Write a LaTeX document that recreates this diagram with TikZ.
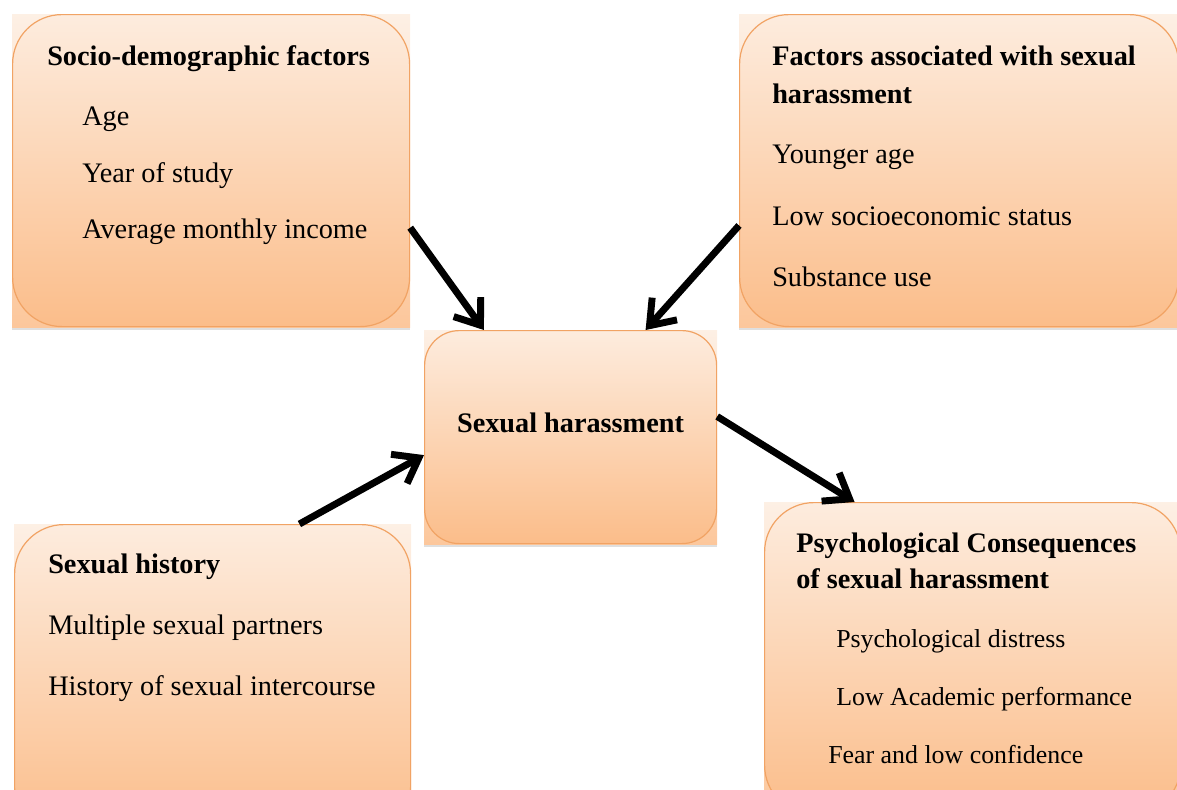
\documentclass[tikz,border=0pt]{standalone}
\usepackage{fontspec}
\setmainfont{Liberation Serif}
\usetikzlibrary{arrows.meta,backgrounds,shadows}
\definecolor{peachtop}{RGB}{253,236,222}
\definecolor{peachbot}{RGB}{251,189,138}
\definecolor{peachline}{RGB}{241,163,100}

\begin{document}
\begin{tikzpicture}[x=0.75pt,y=-0.75pt,
  font=\fontsize{21.2pt}{25pt}\selectfont,
  box/.style={draw=peachline,line width=0.9pt,top color=peachtop,
              bottom color=peachbot,rounded corners=37pt,inner sep=0pt,
              anchor=north west,minimum height=234pt},
  back/.style={top color=peachtop!80!white,bottom color=peachbot!85!white,
               drop shadow={shadow xshift=0pt,shadow yshift=-2pt,opacity=0.25}},
  txt/.style={anchor=base west,inner sep=0pt},
  hd/.style={txt,font=\fontsize{21.2pt}{25pt}\selectfont\bfseries},
  sm/.style={txt,font=\fontsize{19.4pt}{23pt}\selectfont},
  arr/.style={-{Straight Barb[length=17pt,width=25pt]},line width=5.2pt}]

\useasboundingbox (0,0) rectangle (1177,789);

% boxes
\node[box,minimum width=297.75pt] (soc) at (12,14) {};
\node[box,minimum width=329.25pt] (fac) at (739,14) {};
\node[box,minimum width=219pt,minimum height=159.75pt,rounded corners=26pt]
  (sh) at (424,330) {};
\node[box,minimum width=297pt] (hist) at (14,524) {};
\node[box,minimum width=312pt] (psy) at (764,502) {};

\begin{scope}[on background layer]
\path[back] (soc.south west) rectangle (soc.north east);
\path[back] (fac.south west) rectangle (fac.north east);
\path[back] (sh.south west) rectangle (sh.north east);
\path[back] (hist.south west) rectangle (hist.north east);
\path[back] (psy.south west) rectangle (psy.north east);
\end{scope}

% socio-demographic factors
\node[hd] (soct) at (47,65) {Socio-demographic factors};
\node[txt] (soca) at (82,125) {Age};
\node[txt] (socb) at (82,182) {Year of study};
\node[txt] (socc) at (82,238) {Average monthly income};

% associated factors
\node[hd] (fact) at (772,65) {Factors associated with sexual};
\node[hd] (facu) at (772,103) {harassment};
\node[txt] (faca) at (772,163) {Younger age};
\node[txt] (facb) at (772,225) {Low socioeconomic status};
\node[txt] (facc) at (772,286) {Substance use};

% centre
\node[hd,anchor=base] (sht) at (570.5,432) {Sexual harassment};

% sexual history
\node[hd] (histt) at (48,573) {Sexual history};
\node[txt] (hista) at (48,634) {Multiple sexual partners};
\node[txt] (histb) at (48,695) {History of sexual intercourse};

% consequences
\node[hd] (psyt) at (796,552) {Psychological Consequences};
\node[hd] (psyu) at (796,588) {of sexual harassment};
\node[sm] (psya) at (836,647) {Psychological distress};
\node[sm] (psyb) at (836,705) {Low Academic performance};
\node[sm] (psyc) at (828,763) {Fear and low confidence};

% arrows
\draw[arr] (soc.-16.3) -- (sh.129.2);
\draw[arr] (fac.194.6) -- (sh.55.6);
\draw[arr] (hist.61.4) -- (sh.187.2);
\draw[arr] (sh.8.3) -- (psy.127.3);
\end{tikzpicture}
\end{document}
